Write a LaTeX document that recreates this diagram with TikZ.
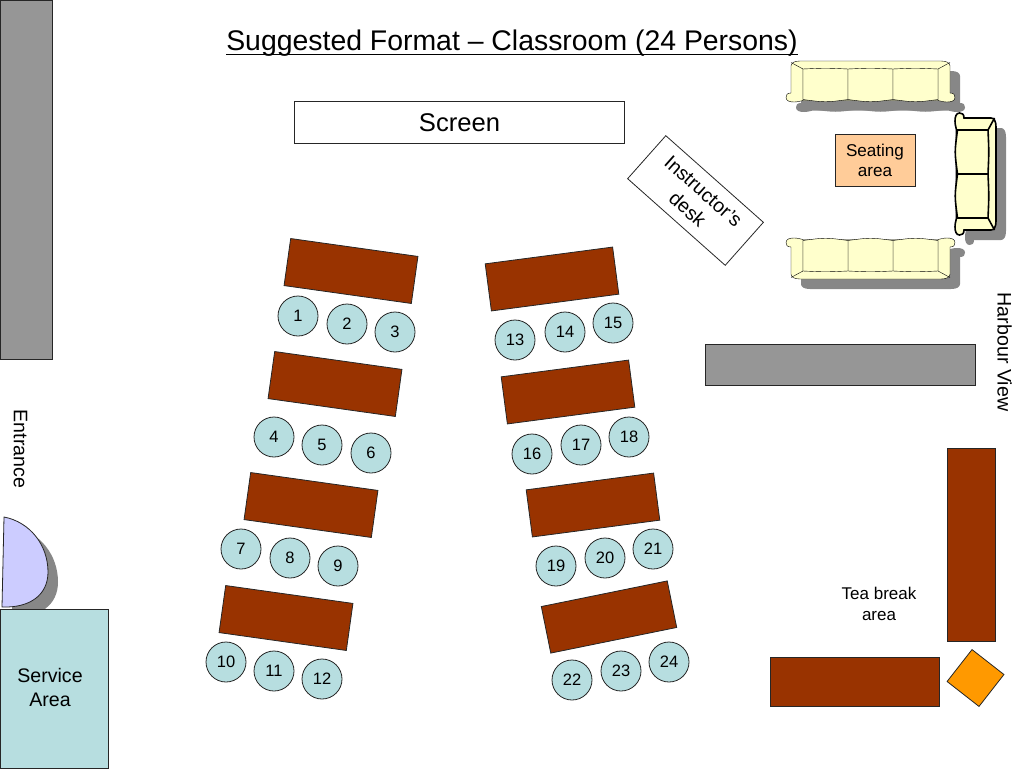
\documentclass[tikz,border=0pt]{standalone}
\usepackage{fontspec}
\setmainfont{Liberation Sans}
\usepackage{xcolor}

\definecolor{wallgray}{HTML}{969696}
\definecolor{woodbrown}{HTML}{993300}
\definecolor{chairblue}{HTML}{B7DEE0}
\definecolor{sofacream}{HTML}{FFFFCC}
\definecolor{doorblue}{HTML}{CCCCFF}
\definecolor{seatpeach}{HTML}{FFCC99}
\definecolor{teaorange}{HTML}{FF9900}

\newcommand{\sofaoutline}[1]{(-#1+5,5) .. controls (-#1+5,2) and (-#1+8,0) .. (-#1+14,0) -- (#1-14,0) .. controls (#1-8,0) and (#1-5,2) .. (#1-5,5) -- (#1-5,32) .. controls (#1-1,32) and (#1,34) .. (#1,36.5) .. controls (#1,40) and (#1-4,41) .. (#1-8,41) .. controls (#1-12,41) and (#1-14,40) .. (#1-17,39.5) -- (-#1+17,39.5) .. controls (-#1+14,40) and (-#1+12,41) .. (-#1+8,41) .. controls (-#1+4,41) and (-#1,40) .. (-#1,36.5) .. controls (-#1,34) and (-#1+1,32) .. (-#1+5,32) -- cycle}

\tikzset{
  room/.style={draw=black!85,line width=0.8pt,inner sep=0pt},
  wall/.style={room,fill=wallgray},
  wood/.style={room,fill=woodbrown},
  table/.style={wood,minimum width=128.5pt,minimum height=47.5pt},
  chair/.style={room,circle,fill=chairblue,minimum size=40pt,font=\fontsize{16.5}{16.5}\selectfont},
  label/.style={align=center,inner sep=0pt,font=\fontsize{19.6}{24}\selectfont},
  pics/sofa/.style 2 args={code={
    \draw[fill=sofacream] \sofaoutline{#1};
    \draw (-#1+5,1.5) -- (-#1+17,8) -- (-#1+17,39.5);
    \draw (#1-5,1.5) -- (#1-17,8) -- (#1-17,39.5);
    \foreach \a/\b in {#2}
    {
      \draw[fill=sofacream] (\a,8) .. controls ({(\a+\b)/2},7) .. (\b,8) -- (\b,38.5) .. controls ({(\a+\b)/2},41.5) .. (\a,38.5) -- cycle;
    }
  }},
  pics/sofashadow/.style 2 args={code={
    \fill[wallgray!90!black] \sofaoutline{#1};
    \foreach \a/\b in {#2}
    {
      \fill[wallgray!90!black] (\a,8) -- (\b,8) -- (\b,38.5) .. controls ({(\a+\b)/2},41.5) .. (\a,38.5) -- cycle;
    }
  }}
}

\begin{document}
\begin{tikzpicture}[x=1pt,y=-1pt]
      \useasboundingbox (0,0) rectangle (1024,768);

      % Title and screen
      \node[inner sep=0pt,anchor=base,font=\fontsize{28.4}{28.4}\selectfont] (title) at (512,50) {\underline{\raisebox{0pt}[\height][3pt]{Suggested Format – Classroom (24 Persons)}}};
      \node[room,fill=white,minimum width=330.5pt,minimum height=42.5pt,font=\fontsize{25.6}{25.6}\selectfont] (screen) at (459.5,122.5) {Screen};
      \node[room,fill=white,rotate=-41.6,minimum width=130.5pt,minimum height=57.5pt,label] (desk) at (695.5,200.5) {Instructor’s\\desk};

      % Walls
      \node[wall,minimum width=52pt,minimum height=359pt] (wallleft) at (26,179.5) {};
      \node[wall,minimum width=270.5pt,minimum height=41.5pt] (wallright) at (840.25,364.75) {};

      % Door
      \fill[wallgray!90!black] (14,527) .. controls (40,532) and (58,555) .. (58,582) .. controls (58,605) and (40,618) .. (12,617) -- cycle;
      \draw[fill=doorblue,draw=black!85,line width=0.8pt] (4,517) .. controls (30,522) and (48,545) .. (48,572) .. controls (48,595) and (30,608) .. (2,607) -- cycle;
      \node[room,fill=chairblue,minimum width=108.5pt,minimum height=158.5pt] (service) at (54.25,688.75) {};
      \node[label] (servicetext) at (50,687) {Service\\Area};
      \node[label,rotate=-90] (entrance) at (20.5,449) {Entrance};

      % Tables
      \foreach \name/\x/\y/\r in {A/351/271/-8,B/335/384/-8,C/311/505/-8,D/286/618/-8,E/552/279/7.5,F/568/392/7.5,G/593/505/7.5,H/609/617/11.5}
      {
        \node[table,rotate=\r] (table\name) at (\x,\y) {};
      }

      % Chairs
      \foreach \n/\x/\y in {1/298/316,2/347/324,3/395/332,4/274/437,5/322/445,6/371/453,7/241/549,8/290/558,9/338/566,10/226/662,11/274/671,12/322/679,13/515/340,14/565/332,15/613/323,16/532/454,17/581/445,18/629/437,19/556/566,20/605/558,21/653/549,22/572/680,23/621/671,24/669/662}
      {
        \node[chair] (chair\n) at (\x,\y) {\n};
      }

      % Seating area
      \pic (topshadow) at (880.5,71) {sofashadow={84.5}{-67.5/-22.5,-22.5/22.5,22.5/67.5}};
      \pic (bottomshadow) at (880.5,289) [rotate=180] {sofashadow={84.5}{-67.5/-22.5,-22.5/22.5,22.5/67.5}};
      \pic (sideshadow) at (1006,184) [rotate=-90] {sofashadow={61}{-44/0,0/44}};
      \pic (sofatop) at (870.5,61) {sofa={84.5}{-67.5/-22.5,-22.5/22.5,22.5/67.5}};
      \pic (sofabottom) at (870.5,279) [rotate=180] {sofa={84.5}{-67.5/-22.5,-22.5/22.5,22.5/67.5}};
      \pic (sofaside) at (996,174) [rotate=-90,line width=1.6pt] {sofa={61}{-44/0,0/44}};
      \node[room,fill=seatpeach,minimum width=80pt,minimum height=52.5pt,align=center,font=\fontsize{17.1}{20}\selectfont] (seating) at (875,160.5) {Seating\\area};
      \node[label,rotate=-90] (harbour) at (1004.5,352) {Harbour View};

      % Tea break
      \node[wood,minimum width=48.5pt,minimum height=193.5pt] (teaside) at (971.5,545) {};
      \node[wood,minimum width=169.5pt,minimum height=49.5pt] (teafront) at (855,682) {};
      \node[room,fill=teaorange,rotate=-38,minimum size=40.5pt] (urn) at (975.5,678) {};
      \node[align=center,inner sep=0pt,font=\fontsize{17}{20.5}\selectfont] (tea) at (879,604) {Tea break\\area};
\end{tikzpicture}
\end{document}
